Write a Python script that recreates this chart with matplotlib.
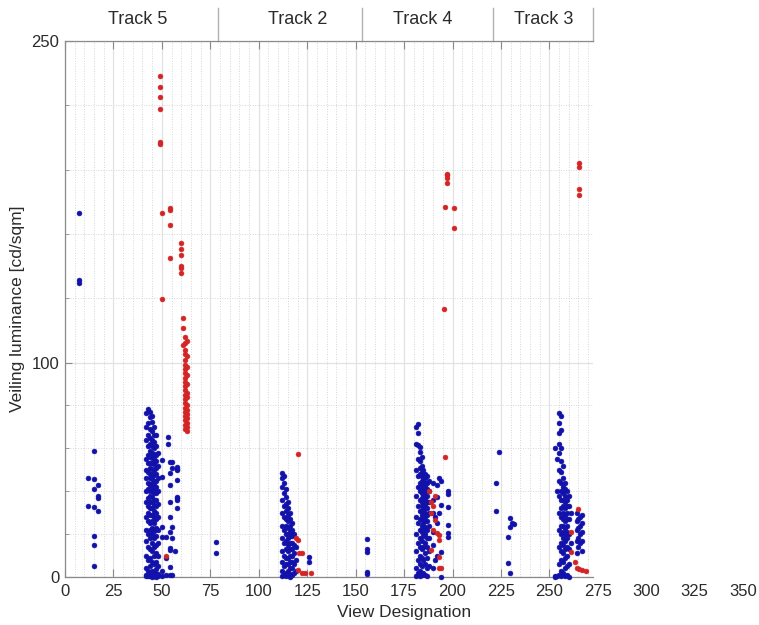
import matplotlib
matplotlib.use('Agg')
import matplotlib.pyplot as plt
from matplotlib.ticker import MultipleLocator, FixedLocator

plt.rcParams['font.family'] = ['Liberation Sans', 'DejaVu Sans']

# ---------------- data (view designation -> veiling luminance values) ----------------
t5_blue = {
    7: [170, 138.3, 137.3],
    12: [46, 33],
    15: [58.6, 45.6, 41, 32.6, 19, 15, 5],
    17: [43, 38, 37, 31],
    42: [76.4, 70, 64, 55, 50, 46, 40, 35, 28, 22, 17, 10, 4, 1, 0.3],
    43: [78.2, 72, 66, 61, 57, 53, 49, 44, 41, 37, 33, 30, 26, 20, 14, 8, 3, 0.5],
    44: [77, 74.8, 69, 65, 62, 59, 56, 53, 51, 48, 46, 43, 40, 38, 35, 32, 29, 25,
         22, 18, 13, 9, 5, 2, 0.4],
    45: [75, 72.5, 68, 64, 61, 58, 55.5, 53, 50.5, 48, 46, 44, 42, 40, 37.5, 35, 32,
         29, 26, 23, 20, 16, 12, 7, 3, 1, 0.2],
    46: [70, 66, 63, 60, 57.5, 55, 52.5, 50, 47.5, 45, 43, 41, 39, 36, 33.5, 31, 28,
         25, 21.5, 18, 14, 10, 6, 2.5, 0.6],
    47: [66, 61, 57, 54, 51, 48, 45, 42, 39, 36, 33, 30, 27, 23, 19, 15, 11, 7, 3.5,
         1.2, 0.1],
    48: [58, 52, 46, 40, 34, 28, 22, 16, 10, 5, 1.5, 0.3],
    50: [54.6, 46.8, 23.5, 18.8, 3, 0.5],
    52: [18.8, 8.7, 1],
    53: [65.2, 61.9],
    54: [53.8, 48.4, 43, 35, 28, 21, 13.4, 12.6, 4.8, 1],
    55: [53.5, 50.7, 23.5, 18, 0.8],
    57: [12.3],
    58: [51.2, 50.3, 49.9, 45.3, 37.2, 36.7, 35.9, 32],
    78: [16.5, 11.3],
}
t5_red = {
    49: [233.8, 228.5, 223.7, 218.3, 202.8, 202],
    50: [170, 129.6],
    52: [10],
    54: [172, 171, 164, 149],
    60: [156, 153, 150, 145, 144, 142],
    61: [121, 116, 108],
    62: [112, 109, 106, 104, 101, 99, 97, 95, 93, 91, 89, 87, 85, 83, 81, 79, 77, 75,
         73, 71, 69],
    63: [110, 103, 98, 94, 90, 86, 84, 80, 78, 76, 74, 72, 70, 68],
}
t2_blue = {
    112: [48.4, 46, 42, 36, 30, 24, 18, 12, 7, 3, 0.5],
    113: [47, 44, 39, 33, 28, 22, 16, 10, 5, 1],
    114: [41, 37.5, 34, 31, 27, 24, 20, 17, 13, 9, 6, 2, 0.3],
    115: [35, 32, 29, 26, 23, 20, 18, 15, 12, 9, 6, 3, 1],
    116: [30, 27, 24, 21, 19, 16, 13, 10, 7, 4, 1.5, 0.2],
    117: [25, 22, 19, 16, 13, 10, 7, 4, 1],
    118: [20, 15, 11, 6, 2],
    119: [14, 8, 3],
    126: [9.5, 7.2],
    156: [17.7, 12.9, 11.8, 2.5, 1.4],
}
t2_red = {
    119: [18],
    120: [57.4, 17.3, 3.3],
    121: [11.3],
    122.5: [11, 2],
    124: [2],
    127: [1.7],
}
t4_blue = {
    181: [70, 62, 50, 38, 28, 20, 12, 4, 0.5],
    182: [71.4, 67, 61.6, 55, 47, 42, 33, 25, 16, 8, 2],
    183: [60.8, 58.5, 54, 51, 48, 44, 40, 36, 31, 27, 22, 18, 14, 10, 6, 3, 0.3],
    184: [56, 52, 49, 47, 45, 43, 41, 39, 37, 35, 33, 31, 29, 27, 24, 21, 17, 13, 9, 5, 1],
    185: [50, 47.5, 46, 44.5, 43, 41.5, 40, 38.5, 37, 35.5, 34, 32.5, 31, 29, 27, 25,
          22, 19, 14, 8, 2],
    186: [48, 46, 44, 42.5, 41, 39.5, 38, 36.5, 35, 33.5, 32, 30, 28, 26, 23.5, 20,
          16, 11, 6, 1],
    187: [47, 44, 41, 38, 35, 32, 29, 26, 22, 18, 14, 9, 4, 0.5],
    188: [45, 40, 35, 30, 24, 18, 12, 5],
    190: [44, 36, 30, 21, 15, 4],
    191: [28, 8],
    192: [43, 37.5, 25, 10],
    193: [46, 30],
    194: [45, 33.6, 11.8, 0.1],
    197.5: [40.3, 38.7, 32.8, 24.3, 20.4, 18.8],
}
t4_red = {
    188: [40],
    189: [35.1, 30, 12.6],
    190: [33.1, 22],
    191: [38, 26.6],
    192: [20.4],
    193: [19.6, 17.3, 9.5, 4],
    194: [4],
    195.5: [125],
    196: [56.2, 172.8],
    197: [188.1, 187.3, 186.3, 183.7],
    201: [172.3, 162.9],
}
t3_blue = {
    222.5: [43.7, 30.9],
    224: [58.5],
    228.5: [18.5, 6.7],
    229.5: [27.4, 23.5, 1.7],
    230.5: [25],
    231.5: [24.5],
    253: [60, 0.5, 0.2],
    254: [55, 40, 0.3],
    255: [76.4, 72, 67, 62, 58, 50, 45, 38, 30, 22, 14, 6, 1],
    256: [75.3, 68.6, 60, 54, 49, 44, 40, 36, 32, 28, 24, 20, 16, 12, 8, 3, 0.4],
    257: [52, 46, 42, 39, 36, 33, 30, 27, 24, 21, 18, 15, 11, 7, 2],
    258: [44, 41, 38, 35, 32, 29, 26, 23, 20, 17, 13, 9, 4, 0.6],
    259: [40, 36, 33, 30, 27, 24, 21, 18, 14, 10, 5, 1],
    260: [38, 33, 27, 20, 13, 6, 0.2],
    261: [30, 16],
    264: [29.7, 26, 22, 17, 11],
    265: [27, 23, 18, 14],
    266: [28, 24, 20, 16],
    267: [28.9, 25, 21, 17, 12],
}
t3_red = {
    261: [21.1, 11.8],
    263: [7.2],
    264: [4],
    264.6: [31.6],
    265.5: [193.3, 191.2, 180.9, 178.3, 3.6],
    267: [3.3],
    269: [3],
}

track_names = ['Track 5', 'Track 2', 'Track 4', 'Track 3']
track_edges = [79, 153.5, 221, 272.5]
track_label_x = [37.5, 120, 184.5, 247]
x_tick_values = list(range(0, 351, 25))
y_tick_values = [0, 100, 250]
y_minor_values = [20, 40, 60, 80, 130, 160, 190, 220]

BLUE = '#1212aa'
RED = '#d22626'
TXT = '#2b2b2b'
AXC = '#8a8a8a'


def flatten(d):
    xs, ys = [], []
    for k, vals in d.items():
        xs += [k] * len(vals)
        ys += vals
    return xs, ys


fig = plt.figure(figsize=(7.59, 6.25), dpi=100)
ax = fig.add_axes([0.0856, 0.0768, 0.6957, 0.8576])
ax.set_xlim(0, 272.5)
ax.set_ylim(0, 250)

for d in (t5_blue, t2_blue, t4_blue, t3_blue):
    xs, ys = flatten(d)
    ax.plot(xs, ys, 'o', ms=3.5, color=BLUE, mec=BLUE, mew=0.4, linestyle='none',
            clip_on=False, zorder=3)
for d in (t5_red, t2_red, t4_red, t3_red):
    xs, ys = flatten(d)
    ax.plot(xs, ys, 'o', ms=3.5, color=RED, mec=RED, mew=0.4, linestyle='none',
            clip_on=False, zorder=4)

# ticks & grid
in_range = [v for v in x_tick_values if v <= 272.5]
ax.set_xticks(in_range)
ax.set_xticklabels([str(v) for v in in_range])
ax.xaxis.set_minor_locator(MultipleLocator(5))
ax.set_yticks(y_tick_values)
ax.yaxis.set_minor_locator(FixedLocator(y_minor_values))
ax.set_axisbelow(True)
ax.grid(which='major', color='#e2e2e2', linewidth=0.9, linestyle='-')
ax.grid(which='minor', color='#d6d6d6', linewidth=0.7, linestyle=(0, (1, 1.6)))

ax.tick_params(axis='x', which='major', direction='in', length=6, top=True,
               color=AXC, labelsize=12, labelcolor=TXT, pad=5)
ax.tick_params(axis='x', which='minor', length=0, top=False, bottom=False)
ax.tick_params(axis='y', which='major', direction='in', length=5, color=AXC,
               labelsize=12, labelcolor=TXT, pad=4)
ax.tick_params(axis='y', which='minor', direction='in', length=3, color=AXC)

for side in ('left', 'bottom', 'top'):
    ax.spines[side].set_color(AXC)
    ax.spines[side].set_linewidth(0.9)
ax.spines['right'].set_visible(False)

# tick labels beyond the visible x-range
for v in x_tick_values:
    if v > 272.5:
        ax.annotate(str(v), xy=(v, 0), xycoords=('data', 'axes fraction'),
                    xytext=(0, -5), textcoords='offset points', ha='center',
                    va='top', fontsize=12, color=TXT, annotation_clip=False)

# axis labels
ax.text(175, -0.067, 'View Designation', transform=ax.get_xaxis_transform(),
        ha='center', va='center', fontsize=12.5, color=TXT)
ax.text(-0.089, 0.5, 'Veiling luminance [cd/sqm]', transform=ax.transAxes,
        rotation=90, ha='center', va='center', fontsize=12.5, color=TXT)

# track header
for e in track_edges:
    ax.plot([e, e], [1.0, 1.062], transform=ax.get_xaxis_transform(),
            color='#b0b0b0', lw=1.0, clip_on=False)
for name, xc in zip(track_names, track_label_x):
    ax.text(xc, 1.041, name, transform=ax.get_xaxis_transform(), ha='center',
            va='center', fontsize=13, color=TXT)

fig.savefig('out.png', dpi=100)
